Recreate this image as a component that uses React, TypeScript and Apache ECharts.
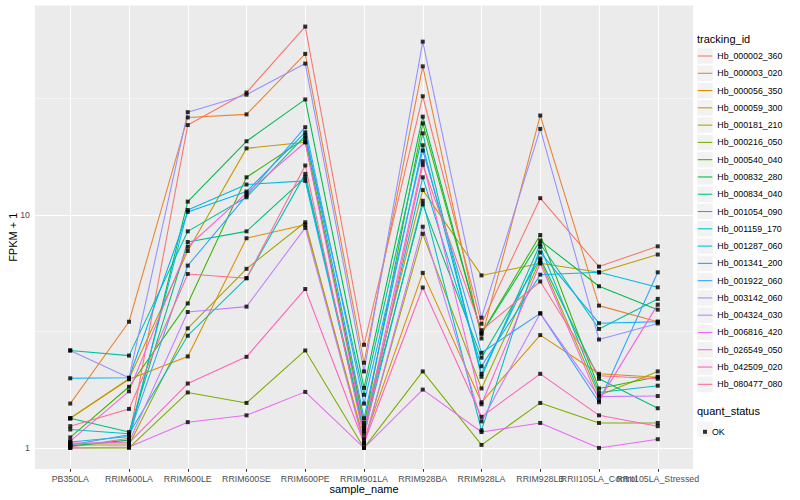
import React, { useEffect, useRef } from "react";
import * as echarts from "echarts";

const categories = [
  "PB350LA", "RRIM600LA", "RRIM600LE", "RRIM600SE", "RRIM600PE", "RRIM901LA",
  "RRIM928BA", "RRIM928LA", "RRIM928LB", "RRII105LA_Control", "RRII105LA_Stressed",
];

const trackingIds = [
  "Hb_000002_360", "Hb_000003_020", "Hb_000056_350", "Hb_000059_300", "Hb_000181_210",
  "Hb_000216_050", "Hb_000540_040", "Hb_000832_280", "Hb_000834_040", "Hb_001054_090",
  "Hb_001159_170", "Hb_001287_060", "Hb_001341_200", "Hb_001922_060", "Hb_003142_060",
  "Hb_004324_030", "Hb_006816_420", "Hb_026549_050", "Hb_042509_020", "Hb_080477_080",
];

const palette = [
  "#F8766D", "#EA8331", "#D89000", "#C09B00", "#A3A500", "#7CAE00", "#39B600", "#00BB4E",
  "#00BF7D", "#00C1A3", "#00BFC4", "#00BAE0", "#00B0F6", "#35A2FF", "#9590FF", "#C77CFF",
  "#E76BF3", "#FA62DB", "#FF62BC", "#FF6C90",
];

// FPKM + 1 per sample (same order as categories)
const hb000002_360 = [1.01, 1.10, 24.3, 33.5, 64.3, 2.77, 32.3, 3.41, 11.8, 6.0, 7.33];
const hb000003_020 = [1.55, 3.48, 26.2, 27.0, 49.1, 2.32, 43.4, 2.95, 26.7, 4.08, 3.48];
const hb000056_350 = [1.34, 1.97, 2.47, 7.94, 9.08, 1.08, 5.64, 1.57, 3.05, 2.08, 2.01];
const hb000059_300 = [1.34, 1.98, 7.0, 19.3, 20.5, 1.28, 12.8, 5.5, 6.2, 5.67, 6.76];
const hb000181_210 = [1.03, 1.03, 3.26, 5.87, 9.3, 1.05, 8.3, 1.8, 6.4, 1.68, 2.13];
const hb000216_050 = [1.0, 1.0, 1.73, 1.56, 2.62, 1.0, 2.13, 1.03, 1.56, 1.28, 1.28];
const hb000540_040 = [1.11, 1.83, 4.17, 14.5, 21.3, 1.25, 24.7, 3.1, 8.2, 1.8, 2.02];
const hb000832_280 = [1.02, 1.08, 11.4, 20.7, 31.3, 1.81, 26.4, 3.09, 7.76, 4.94, 3.92];
const hb000834_040 = [1.34, 1.17, 7.65, 8.5, 14.5, 1.22, 11.1, 2.44, 6.5, 1.98, 1.48];
const hb001054_090 = [2.62, 2.49, 8.5, 11.9, 21.9, 1.69, 22.4, 2.02, 7.5, 3.24, 4.36];
const hb001159_170 = [1.2, 1.15, 3.03, 5.35, 15.0, 1.15, 11.5, 1.19, 7.3, 1.73, 1.85];
const hb001287_060 = [1.06, 1.12, 10.5, 13.5, 14.0, 1.18, 14.5, 2.24, 5.54, 5.67, 4.89];
const hb001341_200 = [1.99, 2.0, 10.3, 12.6, 22.6, 1.34, 19.9, 2.08, 6.9, 3.43, 3.48];
const hb001922_060 = [1.03, 1.14, 6.06, 12.1, 23.8, 1.55, 18.9, 2.56, 3.78, 1.57, 5.67];
const hb003142_060 = [2.62, 2.0, 27.6, 32.8, 44.6, 2.13, 55.4, 3.62, 23.4, 2.92, 3.42];
const hb004324_030 = [1.04, 1.06, 3.83, 4.04, 8.8, 1.04, 8.9, 1.3, 3.78, 1.66, 1.67];
const hb006816_420 = [1.0, 1.01, 1.29, 1.38, 1.74, 1.0, 1.78, 1.17, 1.28, 1.0, 1.09];
const hb026549_050 = [1.07, 1.75, 7.3, 12.4, 20.5, 1.2, 17.0, 1.54, 6.2, 1.6, 4.12];
const hb042509_020 = [1.05, 1.05, 1.89, 2.46, 4.81, 1.05, 4.88, 1.36, 2.08, 1.38, 1.24];
const hb080477_080 = [1.24, 1.47, 5.58, 5.35, 16.3, 1.1, 16.4, 3.2, 5.18, 2.04, 1.98];

const seriesValues = [
  hb000002_360, hb000003_020, hb000056_350, hb000059_300, hb000181_210,
  hb000216_050, hb000540_040, hb000832_280, hb000834_040, hb001054_090,
  hb001159_170, hb001287_060, hb001341_200, hb001922_060, hb003142_060,
  hb004324_030, hb006816_420, hb026549_050, hb042509_020, hb080477_080,
];

const yTicks = [1, 10];
const quantStatus = "OK";

const FONT = "'Liberation Sans', Arial, Helvetica, sans-serif";

function buildOption() {
  const all = seriesValues.flat();
  const lo = Math.log10(Math.min(...all));
  const hi = Math.log10(Math.max(...all));
  const span = hi - lo;
  const yMin = Math.pow(10, lo - 0.05 * span);
  const yMax = Math.pow(10, hi + 0.05 * span);

  const minorY = [Math.sqrt(yTicks[0] * yTicks[1]), Math.sqrt(yTicks[1] * yTicks[1] * 10)];

  const gridLines = [
    ...categories.map((_, i) => ({ xAxis: i, lineStyle: { width: 1.07 } })),
    ...minorY.map((v) => ({ yAxis: v, lineStyle: { width: 0.53 } })),
    ...yTicks.map((v) => ({ yAxis: v, lineStyle: { width: 1.07 } })),
  ];

  const lineSeries = trackingIds.map((name, k) => ({
    name,
    type: "line",
    color: palette[k],
    symbol: "none",
    lineStyle: { width: 1.07, color: palette[k] },
    emphasis: { disabled: true },
    silent: true,
    z: 2,
    xAxisIndex: 0,
    data: seriesValues[k].map((v, i) => [i, v]),
  }));

  const pointSeries = {
    name: quantStatus,
    type: "scatter",
    symbol: "rect",
    symbolSize: 4,
    itemStyle: { color: "#000000" },
    emphasis: { disabled: true },
    silent: true,
    z: 3,
    xAxisIndex: 0,
    data: seriesValues.flatMap((vals) => vals.map((v, i) => [i, v])),
    markLine: {
      silent: true,
      z: 1,
      symbol: "none",
      label: { show: false },
      emphasis: { disabled: true },
      lineStyle: { color: "#FFFFFF", type: "solid", width: 1.07 },
      data: gridLines,
    },
  };

  const keyStep = 17.28;
  const keySize = 15.5;
  const keyGap = keyStep - keySize;
  const legendTop = 48.25;

  const idx = categories.map((_, i) => i);
  const evenIdx = idx.filter((i) => i % 2 === 0);
  const oddIdx = idx.filter((i) => i % 2 === 1);

  const xLabelBase = {
    formatter: (v: number) => categories[Math.round(v)] ?? "",
    color: "#4D4D4D",
    fontSize: 8.8,
    margin: 5,
    hideOverlap: false,
    fontFamily: FONT,
  };
  const xTickBase = {
    show: true,
    length: 2.75,
    lineStyle: { color: "#333333", width: 1.07 },
  };

  return {
    animation: false,
    textStyle: { fontFamily: FONT },
    grid: {
      left: 35,
      top: 5.5,
      width: 658,
      height: 463.5,
      show: true,
      backgroundColor: "#EBEBEB",
      borderWidth: 0,
      containLabel: false,
      outerBoundsMode: "none",
    },
    xAxis: [
      {
        type: "value",
        position: "bottom",
        min: -0.6,
        max: 10.6,
        name: "sample_name",
        nameLocation: "middle",
        nameGap: 14,
        nameMoveOverlap: false,
        nameTextStyle: { fontSize: 11, color: "#000000", fontFamily: FONT, verticalAlign: "top" },
        axisLine: { show: false },
        splitLine: { show: false },
        axisTick: { ...xTickBase, customValues: evenIdx },
        axisLabel: { ...xLabelBase, customValues: evenIdx },
      },
      {
        type: "value",
        position: "bottom",
        offset: 0,
        min: -0.6,
        max: 10.6,
        axisLine: { show: false },
        splitLine: { show: false },
        axisTick: { ...xTickBase, customValues: oddIdx },
        axisLabel: { ...xLabelBase, customValues: oddIdx },
      },
    ],
    yAxis: {
      type: "log",
      logBase: 10,
      min: yMin,
      max: yMax,
      name: "FPKM + 1",
      nameLocation: "middle",
      nameGap: 17,
      nameRotate: 90,
      nameMoveOverlap: false,
      nameTextStyle: { fontSize: 11, color: "#000000", fontFamily: FONT },
      axisLine: { show: false },
      splitLine: { show: false },
      minorSplitLine: { show: false },
      axisTick: {
        show: true,
        customValues: yTicks,
        length: 2.75,
        lineStyle: { color: "#333333", width: 1.07 },
      },
      axisLabel: {
        customValues: yTicks,
        formatter: (v: number) => String(Math.round(v)),
        color: "#4D4D4D",
        fontSize: 8.8,
        margin: 5,
        fontFamily: FONT,
      },
    },
    legend: [
      {
        data: trackingIds,
        orient: "vertical",
        left: 697.3,
        top: legendTop,
        itemWidth: keySize,
        itemHeight: keySize,
        itemGap: keyGap,
        icon: "rect",
        itemStyle: { color: "#F2F2F2", borderWidth: 0 },
        formatter: () => "",
        selectedMode: false,
        padding: 0,
        z: 3,
      },
      {
        data: trackingIds,
        orient: "vertical",
        left: 697.8,
        top: 56 - keyStep / 2,
        itemWidth: 14.5,
        itemHeight: 1.07,
        itemGap: 0,
        icon: "rect",
        itemStyle: { borderWidth: 0 },
        textStyle: {
          fontSize: 8.8,
          color: "#000000",
          fontFamily: FONT,
          lineHeight: keyStep,
          height: keyStep,
        },
        selectedMode: false,
        padding: 0,
        z: 4,
      },
      {
        data: [quantStatus],
        orient: "vertical",
        left: 697.3,
        top: 421.5,
        itemWidth: keySize,
        itemHeight: keySize,
        icon: "rect",
        itemStyle: { color: "#F2F2F2", borderWidth: 0 },
        formatter: () => "",
        selectedMode: false,
        padding: 0,
        z: 3,
      },
      {
        data: [quantStatus],
        orient: "vertical",
        left: 703,
        top: 427.3,
        itemWidth: 4,
        itemHeight: 4,
        icon: "rect",
        itemStyle: { borderWidth: 0 },
        textStyle: { fontSize: 8.8, color: "#000000", fontFamily: FONT },
        selectedMode: false,
        padding: 0,
        z: 4,
      },
    ],
    graphic: [
      {
        type: "text",
        left: 697,
        top: 33,
        style: { text: "tracking_id", fontSize: 11, fill: "#000000", fontFamily: FONT },
      },
      {
        type: "text",
        left: 697,
        top: 405.5,
        style: { text: "quant_status", fontSize: 11, fill: "#000000", fontFamily: FONT },
      },
    ],
    series: [...lineSeries, pointSeries],
  };
}

export default function App() {
  const ref = useRef<HTMLDivElement>(null);
  useEffect(() => {
    if (!ref.current) return;
    const chart = echarts.init(ref.current, null, { renderer: "svg" });
    chart.setOption(buildOption() as any);
    return () => chart.dispose();
  }, []);
  return (
    <div
      ref={ref}
      style={{ position: "fixed", left: 0, top: 0, width: 800, height: 500, background: "#ffffff" }}
    />
  );
}
